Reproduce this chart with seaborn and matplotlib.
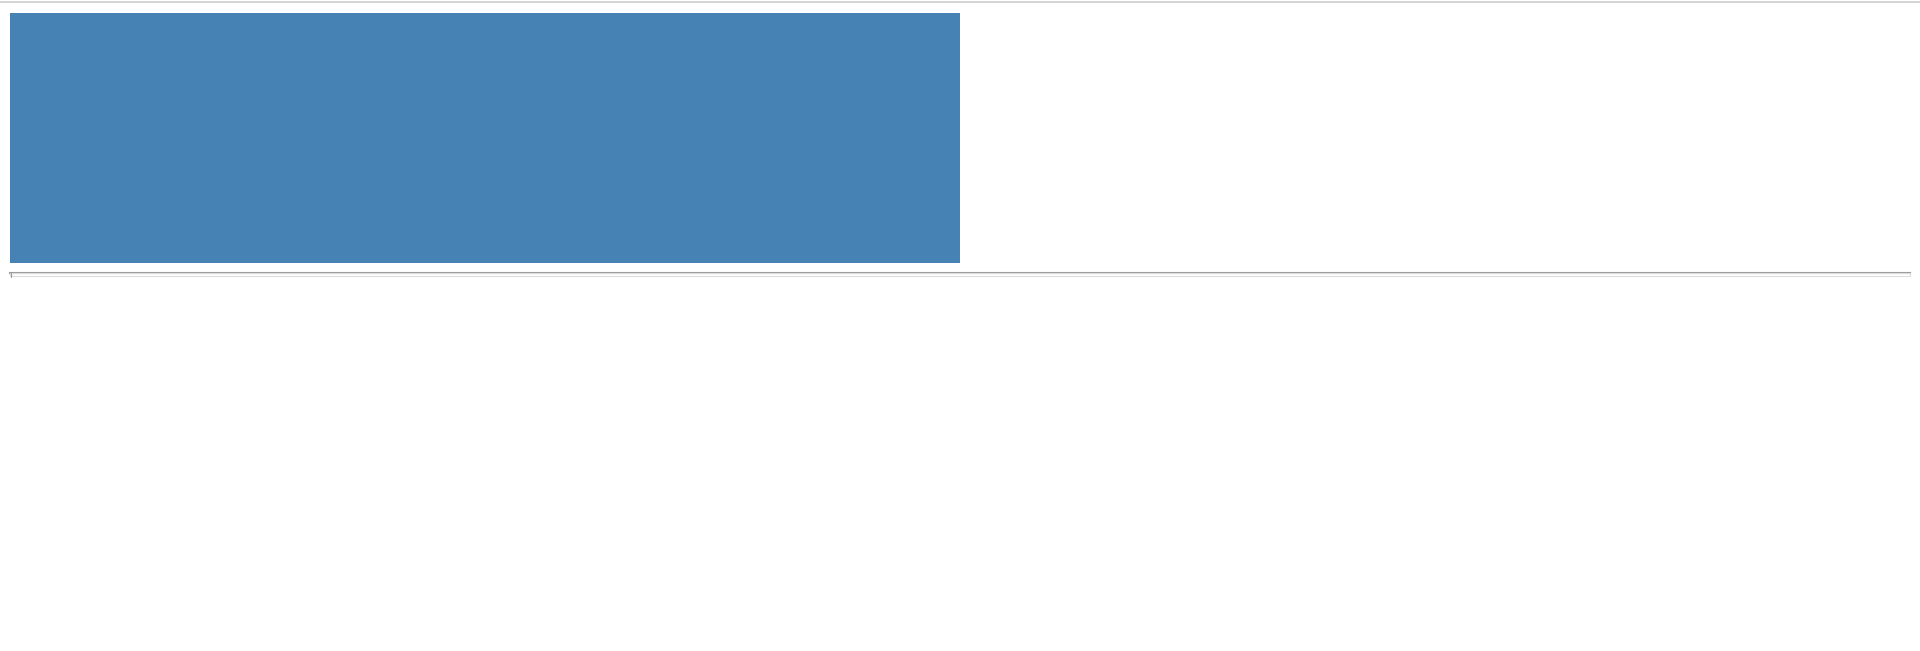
import pandas as pd
import seaborn as sns
import matplotlib.pyplot as plt
from matplotlib.patches import Rectangle
from matplotlib.lines import Line2D

# data
categories = ["A"]
values = [50]
x_max = 100

W, H, DPI = 1920, 651, 100


def px_x(x):
    return x / W


def px_y(y):
    # pixel rows from the top -> figure fraction
    return 1 - y / H


df = pd.DataFrame({"category": categories, "value": values})

sns.set_theme(style="white")
plt.rcParams['font.family'] = ['DejaVu Sans']

fig = plt.figure(figsize=(W / DPI, H / DPI), dpi=DPI)
fig.patch.set_facecolor("white")

# axes box: x 10..1910, y 13..273 (pixels from top)
ax = fig.add_axes([px_x(10), px_y(273), px_x(1900), (273 - 13) / H])
sns.barplot(data=df, x="value", y="category", orient="h", color="#4682b4",
            width=1.0, saturation=1, ax=ax)

ax.set_xlim(0, x_max)
ax.set_ylim(0.54, -0.5)
ax.set_xlabel("")
ax.set_ylabel("")
ax.set_xticks([])
ax.set_yticks([])
for side in ["top", "left", "right"]:
    ax.spines[side].set_visible(False)
ax.spines["bottom"].set_color("#999999")
ax.spines["bottom"].set_linewidth(1.5)
for p in ax.patches:
    p.set_linewidth(0)

# thin light box just under the axis line
fig.patches.append(Rectangle((px_x(10), px_y(276)), px_x(1900), 3 / H,
                             transform=fig.transFigure, fill=False,
                             edgecolor="#dddddd", linewidth=0.8))
# small tick at the left end
fig.lines.append(Line2D([px_x(10.5), px_x(10.5)], [px_y(273), px_y(277)],
                        transform=fig.transFigure, color="#999999", linewidth=0.8))

# light rule across the top of the page
fig.lines.append(Line2D([0, 1], [px_y(2.3), px_y(2.3)], transform=fig.transFigure,
                        color="#d4d4d4", linewidth=1.4))

fig.savefig("out.png", dpi=DPI, facecolor="white")
